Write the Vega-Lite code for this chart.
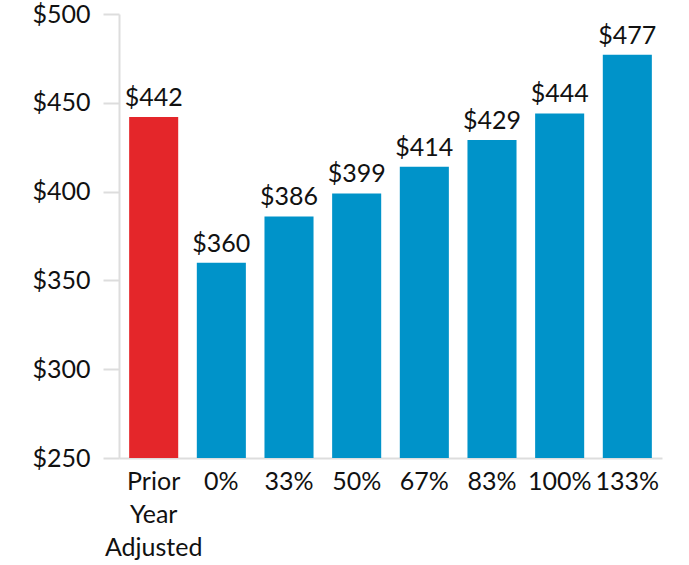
{
  "$schema": "https://vega.github.io/schema/vega-lite/v6.json",
  "autosize": "none",
  "width": 543,
  "height": 444,
  "padding": {"left": 119, "top": 14, "right": 27, "bottom": 107},
  "background": "white",
  "config": {"view": {"stroke": null}, "font": "Lato"},
  "data": {"values": [
    {"category": "Prior Year Adjusted", "value": 442, "type": "prior"},
    {"category": "0%", "value": 360, "type": "scenario"},
    {"category": "33%", "value": 386, "type": "scenario"},
    {"category": "50%", "value": 399, "type": "scenario"},
    {"category": "67%", "value": 414, "type": "scenario"},
    {"category": "83%", "value": 429, "type": "scenario"},
    {"category": "100%", "value": 444, "type": "scenario"},
    {"category": "133%", "value": 477, "type": "scenario"}
  ]},
  "encoding": {
    "x": {"field": "category", "type": "nominal", "sort": null,
      "scale": {"paddingInner": 0.275, "paddingOuter": 0.15},
      "axis": {"title": null, "labelAngle": 0, "labelFontSize": 25, "labelFontWeight": 400, "labelColor": "#111",
        "labelExpr": "split(datum.label, ' ')", "labelLineHeight": 33, "labelPadding": 11,
        "ticks": false, "domainColor": "#dddddd", "domainWidth": 2, "labelFont": "Lato"}},
    "y": {"field": "value", "type": "quantitative",
      "scale": {"domain": [250, 500]},
      "axis": {"title": null, "values": [250, 300, 350, 400, 450, 500], "labelExpr": "'$' + datum.value",
        "labelFontSize": 25, "labelFontWeight": 400, "labelColor": "#111", "tickSize": 16, "labelPadding": 13,
        "tickColor": "#dddddd", "tickWidth": 2, "domainColor": "#dddddd", "domainWidth": 2,
        "grid": false, "labelFont": "Lato"}}
  },
  "layer": [
    {"mark": {"type": "bar", "clip": true},
      "encoding": {"color": {"field": "type", "type": "nominal",
        "scale": {"domain": ["prior", "scenario"], "range": ["#e4262a", "#0093c9"]}, "legend": null}}},
    {"mark": {"type": "text", "baseline": "bottom", "dy": -6, "fontSize": 25, "fontWeight": 400, "color": "#111", "font": "Lato"},
      "encoding": {"text": {"field": "value", "type": "quantitative", "format": "$d"}}}
  ]
}
